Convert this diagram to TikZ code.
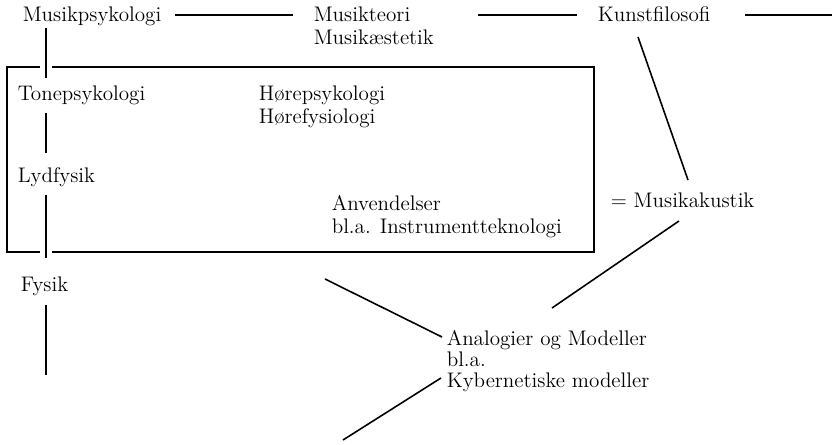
\documentclass[tikz,border=0pt]{standalone}
\begin{document}
\begin{tikzpicture}[x=0.02cm, y=-0.02cm, line width=0.9pt,
    term/.style={anchor=base west, inner sep=0pt, font=\fontsize{12}{14}\selectfont},
    cross/.style={preaction={draw=white, line width=7pt}}]
  \useasboundingbox (0,0) rectangle (832,445);

  % top row
  \node[term] (psyk)  at (22,22)  {Musikpsykologi};
  \node[term] (teori) at (313,22) {Musikteori};
  \node[term] (aest)  at (313,45) {Musikæstetik};
  \node[term] (kunst) at (597,22) {Kunstfilosofi};

  % inside the box
  \node[term] (tone) at (17,101)  {Tonepsykologi};
  \node[term] (hpsy) at (258,101) {Hørepsykologi};
  \node[term] (hfys) at (258,124) {Hørefysiologi};
  \node[term] (lyd)  at (17,183)  {Lydfysik};
  \node[term] (anv)  at (331,211) {Anvendelser};
  \node[term] (instr) at (331,234) {bl.a. Instrumentteknologi};

  % outside, right and below
  \node[term] (akust) at (610,208) {= Musikakustik};
  \node[term] (fysik) at (20,292)  {Fysik};
  \node[term] (analog) at (446,346) {Analogier og Modeller};
  \node[term] (bla)    at (446,367) {bl.a.};
  \node[term] (kyb)    at (446,388) {Kybernetiske modeller};

  % the box
  \coordinate (boxnw) at (7,67); \coordinate (boxse) at (594,252);
  \draw (boxnw) rectangle (boxse);

  % ends of the free connectors
  \coordinate (h1a) at (175,15); \coordinate (h1b) at (293,15);
  \coordinate (h2a) at (478,15); \coordinate (h2b) at (577,15);
  \coordinate (h3a) at (745,15); \coordinate (h3b) at (832,15);
  \coordinate (v1a) at (46,28);  \coordinate (v1b) at (46,78);
  \coordinate (v2a) at (46,113); \coordinate (v2b) at (46,153);
  \coordinate (v3a) at (46,195); \coordinate (v3b) at (46,258);
  \coordinate (v4a) at (46,305); \coordinate (v4b) at (46,375);
  \coordinate (d1a) at (638,37);  \coordinate (d1b) at (688,180);
  \coordinate (d2a) at (679,221); \coordinate (d2b) at (552,308);
  \coordinate (d3a) at (325,279); \coordinate (d3b) at (442,337);
  \coordinate (d4a) at (441,378); \coordinate (d4b) at (343,440);

  % connectors
  \draw (h1a) -- (h1b);
  \draw (h2a) -- (h2b);
  \draw (h3a) -- (h3b);
  \draw[cross] (v1a) -- (v1b);
  \draw (v2a) -- (v2b);
  \draw[cross] (v3a) -- (v3b);
  \draw (v4a) -- (v4b);
  \draw (d1a) -- (d1b); % from Kunstfilosofi
  \draw (d2a) -- (d2b); % from Musikakustik
  \draw (d3a) -- (d3b);
  \draw (d4a) -- (d4b);
\end{tikzpicture}
\end{document}
